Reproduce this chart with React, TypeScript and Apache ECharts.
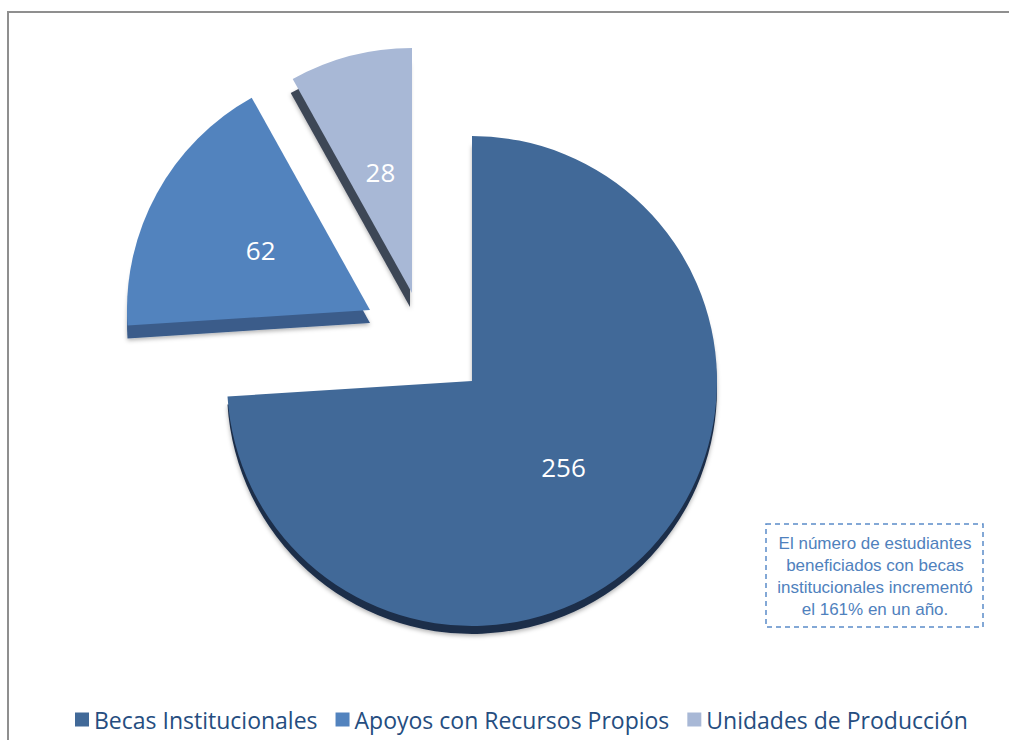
import React, { useEffect, useRef } from "react";
import * as echarts from "echarts";

const categories = ["Becas Institucionales", "Apoyos con Recursos Propios", "Unidades de Producción"];
const values = [256, 62, 28];
const noteLines = [
  "El número de estudiantes",
  "beneficiados con becas",
  "institucionales incrementó",
  "el 161% en un año.",
];

const faceColors = ["#416998", "#5283be", "#a8b8d6"];
const sideColors = ["#1e2f4a", "#3a5c8a", "#3e4657"];
const centers: [number, number][] = [
  [472, 381],
  [370, 310],
  [412, 293],
];
const radii = [245, 243, 245];
const depthsY = [8, 13, 14];
const depthsX = [0, 0, -2];

const FONT = "'Open Sans', 'Noto Sans', sans-serif";

function buildData(visible: number, colors: string[], showLabel: boolean) {
  return categories.map((name, i) => ({
    name,
    value: values[i],
    itemStyle: { color: i === visible ? colors[i] : "rgba(0,0,0,0)", borderWidth: 0 },
    label: { show: showLabel && i === visible },
  }));
}

function pieSeries(idx: number, side: boolean) {
  const [cx, cy] = centers[idx];
  return {
    type: "pie",
    name: (side ? "side-" : "face-") + idx,
    center: [cx + (side ? depthsX[idx] : 0), cy + (side ? depthsY[idx] : 0)],
    radius: radii[idx],
    startAngle: 90,
    clockwise: true,
    silent: true,
    avoidLabelOverlap: false,
    z: side ? 1 : 2,
    itemStyle: side
      ? { shadowBlur: 4, shadowColor: "rgba(0,0,0,0.3)", shadowOffsetY: 2 }
      : {},
    label: {
      position: "inside",
      color: "#ffffff",
      fontSize: 26,
      fontFamily: FONT,
      formatter: "{c}",
    },
    labelLine: { show: false },
    emphasis: { disabled: true },
    data: buildData(idx, side ? sideColors : faceColors, !side),
  };
}

export default function App() {
  const ref = useRef<HTMLDivElement>(null);
  useEffect(() => {
    if (!ref.current) return;
    const chart = echarts.init(ref.current, undefined, { renderer: "svg" });
    const series: any[] = [];
    for (let i = 0; i < values.length; i++) series.push(pieSeries(i, true));
    for (let i = 0; i < values.length; i++) series.push(pieSeries(i, false));
    chart.setOption({
      animation: false,
      backgroundColor: "#ffffff",
      legend: {
        data: categories.map((name, i) => ({ name, itemStyle: { color: faceColors[i] } })),
        left: 70,
        top: 703,
        icon: "rect",
        itemWidth: 14,
        itemHeight: 14,
        itemGap: 18,
        selectedMode: false,
        textStyle: { fontSize: 23, color: "#254d80", fontFamily: FONT },
      },
      graphic: [
        {
          type: "rect",
          silent: true,
          z: -10,
          shape: { x: 8, y: 12, width: 1200, height: 900 },
          style: { fill: "none", stroke: "#8f8f8f", lineWidth: 2 },
        },
        {
          type: "rect",
          silent: true,
          shape: { x: 766, y: 524, width: 217, height: 103 },
          style: { fill: "#ffffff", stroke: "#5b8cc9", lineWidth: 1.5, lineDash: [5, 4] },
        },
        {
          type: "text",
          silent: true,
          x: 875,
          y: 576,
          style: {
            text: noteLines.join("\n"),
            align: "center",
            verticalAlign: "middle",
            fontSize: 17,
            lineHeight: 22,
            fontFamily: "'Liberation Sans', Arial, sans-serif",
            fill: "#4f81bd",
          },
        },
      ],
      series,
    });
    return () => chart.dispose();
  }, []);
  return (
    <div
      ref={ref}
      style={{ position: "absolute", left: 0, top: 0, width: 1009, height: 740 }}
    />
  );
}
